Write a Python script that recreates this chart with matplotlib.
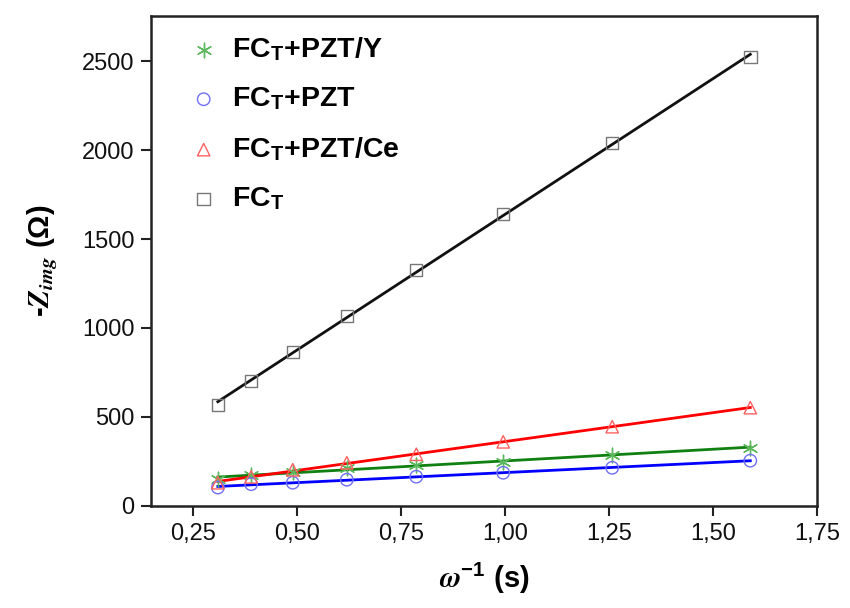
import numpy as np
import matplotlib
matplotlib.use("Agg")
import matplotlib.pyplot as plt
from matplotlib.ticker import FuncFormatter

plt.rcParams['font.family'] = ['Liberation Sans', 'DejaVu Sans']
plt.rcParams['mathtext.fontset'] = 'custom'
plt.rcParams['mathtext.rm'] = 'Liberation Sans'
plt.rcParams['mathtext.bf'] = 'Liberation Sans:bold'
plt.rcParams['mathtext.it'] = 'STIXGeneral:italic'
plt.rcParams['mathtext.bfit'] = 'STIXGeneral:italic:bold'

x = [0.31, 0.39, 0.49, 0.62, 0.787, 0.996, 1.258, 1.59]
fct_y = [567, 702, 865, 1067, 1326, 1640, 2039, 2522]
pzt_ce = [130, 163, 203, 242, 290, 360, 445, 552]
pzt_y = [150, 172, 190, 212, 230, 248, 287, 327]
pzt = [103, 122, 130, 147, 164, 186, 214, 254]

series = [
    ("FC$_\\mathbf{T}$+PZT/Y", pzt_y, (6, 2, 0), "#5cb85c", "#108010"),
    ("FC$_\\mathbf{T}$+PZT", pzt, "o", "#6f6ff5", "#0000ff"),
    ("FC$_\\mathbf{T}$+PZT/Ce", pzt_ce, "^", "#ff6060", "#ff0000"),
    ("FC$_\\mathbf{T}$", fct_y, "s", "#777777", "#111111"),
]

fig = plt.figure(figsize=(8.5, 6.08), dpi=100)
ax = fig.add_axes([0.178, 0.168, 0.783, 0.806])

xa = np.array(x)
handles = []
for label, ys, mk, mc, lc in series:
    coef = np.polyfit(xa, ys, 1)
    xf = np.array([xa.min(), xa.max()])
    ax.plot(xf, np.polyval(coef, xf), color=lc, lw=2, zorder=2)
    h = ax.scatter(xa, ys, marker=mk, s=80 if mk != (6, 2, 0) else 110,
                   facecolors='none' if mk != (6, 2, 0) else mc,
                   edgecolors=mc, linewidths=1.0, zorder=3, label=label)
    handles.append(h)

leg = ax.legend(handles=handles, loc='upper left', frameon=False,
                bbox_to_anchor=(0.006, 1.0), labelspacing=0.8, handletextpad=0.0,
                prop={'weight': 'bold', 'size': 20.5}, scatterpoints=1,
                borderaxespad=0.3)

ax.set_xlim(0.15, 1.75)
ax.set_ylim(0, 2755)
ax.set_xticks([0.25, 0.5, 0.75, 1.0, 1.25, 1.5, 1.75])
ax.set_yticks([0, 500, 1000, 1500, 2000, 2500])
ax.xaxis.set_major_formatter(FuncFormatter(lambda v, p: f"{v:.2f}".replace('.', ',')))
ax.tick_params(direction='out', length=7, width=1.5, labelsize=17, pad=5,
               colors='#222222', labelcolor='#111111')
for s in ax.spines.values():
    s.set_linewidth(1.8)
    s.set_color('#222222')

ax.set_xlabel(r'$\mathbfit{\omega}^{\mathbf{-1}}$ (s)', fontsize=21, fontweight='bold', labelpad=12)
ax.set_ylabel(r'-$\mathbfit{Z_{img}}$ (Ω)', fontsize=21, fontweight='bold', labelpad=16)

fig.savefig('out.png', dpi=100)
